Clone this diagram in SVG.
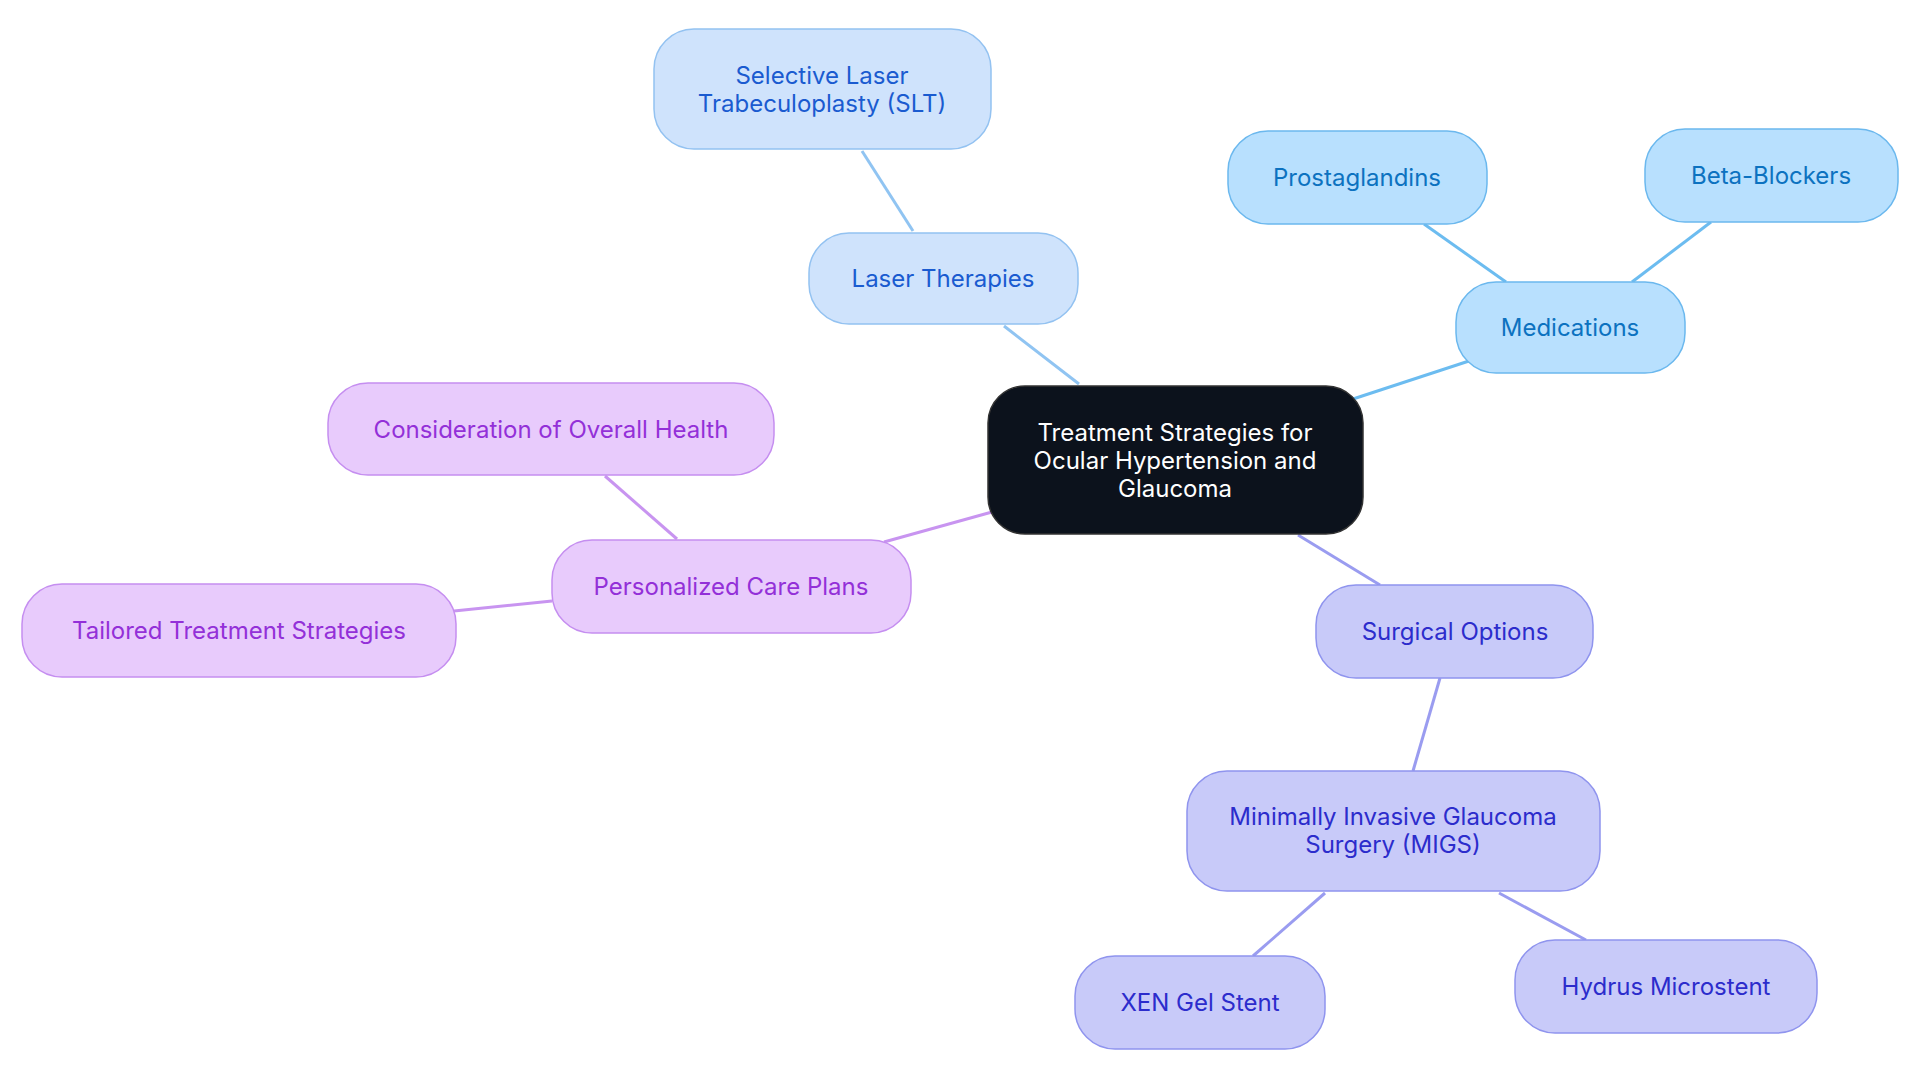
<svg xmlns="http://www.w3.org/2000/svg" width="1920" height="1083" viewBox="0 0 1920 1083">
<style>
text{font-family:Inter,"Noto Sans",sans-serif;font-size:24px;text-anchor:middle;dominant-baseline:central}
.l rect{fill:#cfe3fc;stroke:#93c2f1}.l text{fill:#1a5bd0}
.m rect{fill:#b8e0fe;stroke:#6bb8ee}.m text{fill:#0c72c0}
.s rect{fill:#c8caf9;stroke:#8f94ee}.s text{fill:#2c2ccc}
.p rect{fill:#e8cbfc;stroke:#c58ef0}.p text{fill:#9330d8}
rect{stroke-width:1.5}
#edges line{stroke-width:3}
</style>
<rect width="1920" height="1083" fill="#fff"/>
<g id="edges">
<line x1="1079" y1="384" x2="1004" y2="326" stroke="#90c4f2"/>
<line x1="913" y1="231" x2="862" y2="151" stroke="#90c4f2"/>
<line x1="1353" y1="399" x2="1469" y2="361" stroke="#6cbcf0"/>
<line x1="1506" y1="282" x2="1424" y2="224" stroke="#6cbcf0"/>
<line x1="1632" y1="282" x2="1711" y2="222" stroke="#6cbcf0"/>
<line x1="992" y1="512" x2="884" y2="542" stroke="#c894f0"/>
<line x1="677" y1="539" x2="605" y2="476" stroke="#c894f0"/>
<line x1="552" y1="601" x2="454" y2="611" stroke="#c894f0"/>
<line x1="1298" y1="535" x2="1380" y2="585" stroke="#9a9cf0"/>
<line x1="1440" y1="678" x2="1413" y2="771" stroke="#9a9cf0"/>
<line x1="1325" y1="893" x2="1253" y2="956" stroke="#9a9cf0"/>
<line x1="1499" y1="893" x2="1586" y2="940" stroke="#9a9cf0"/>
</g>
<g id="center"><rect x="988" y="386" width="375" height="148" rx="37" fill="#0c121c" stroke="#333" stroke-width="1.5"/>
<text x="1175" y="432" fill="#fff">Treatment Strategies for</text><text x="1175" y="460" fill="#fff">Ocular Hypertension and</text><text x="1175" y="488" fill="#fff">Glaucoma</text></g>
<g id="slt" class="l"><rect x="654" y="29" width="337" height="120" rx="40"/><text x="822" y="75">Selective Laser</text><text x="822" y="103">Trabeculoplasty (SLT)</text></g>
<g id="laser" class="l"><rect x="809" y="233" width="269" height="91" rx="40"/><text x="943" y="278">Laser Therapies</text></g>
<g id="prost" class="m"><rect x="1228" y="131" width="259" height="93" rx="40"/><text x="1357" y="177">Prostaglandins</text></g>
<g id="beta" class="m"><rect x="1645" y="129" width="253" height="93" rx="40"/><text x="1771" y="175">Beta-Blockers</text></g>
<g id="med" class="m"><rect x="1456" y="282" width="229" height="91" rx="40"/><text x="1570" y="327">Medications</text></g>
<g id="cons" class="p"><rect x="328" y="383" width="446" height="92" rx="40"/><text x="551" y="429">Consideration of Overall Health</text></g>
<g id="pers" class="p"><rect x="552" y="540" width="359" height="93" rx="40"/><text x="731" y="586">Personalized Care Plans</text></g>
<g id="tail" class="p"><rect x="22" y="584" width="434" height="93" rx="40"/><text x="239" y="630">Tailored Treatment Strategies</text></g>
<g id="surg" class="s"><rect x="1316" y="585" width="277" height="93" rx="40"/><text x="1455" y="631">Surgical Options</text></g>
<g id="migs" class="s"><rect x="1187" y="771" width="413" height="120" rx="40"/><text x="1393" y="816">Minimally Invasive Glaucoma</text><text x="1393" y="844">Surgery (MIGS)</text></g>
<g id="xen" class="s"><rect x="1075" y="956" width="250" height="93" rx="40"/><text x="1200" y="1002">XEN Gel Stent</text></g>
<g id="hydrus" class="s"><rect x="1515" y="940" width="302" height="93" rx="40"/><text x="1666" y="986">Hydrus Microstent</text></g>
</svg>
